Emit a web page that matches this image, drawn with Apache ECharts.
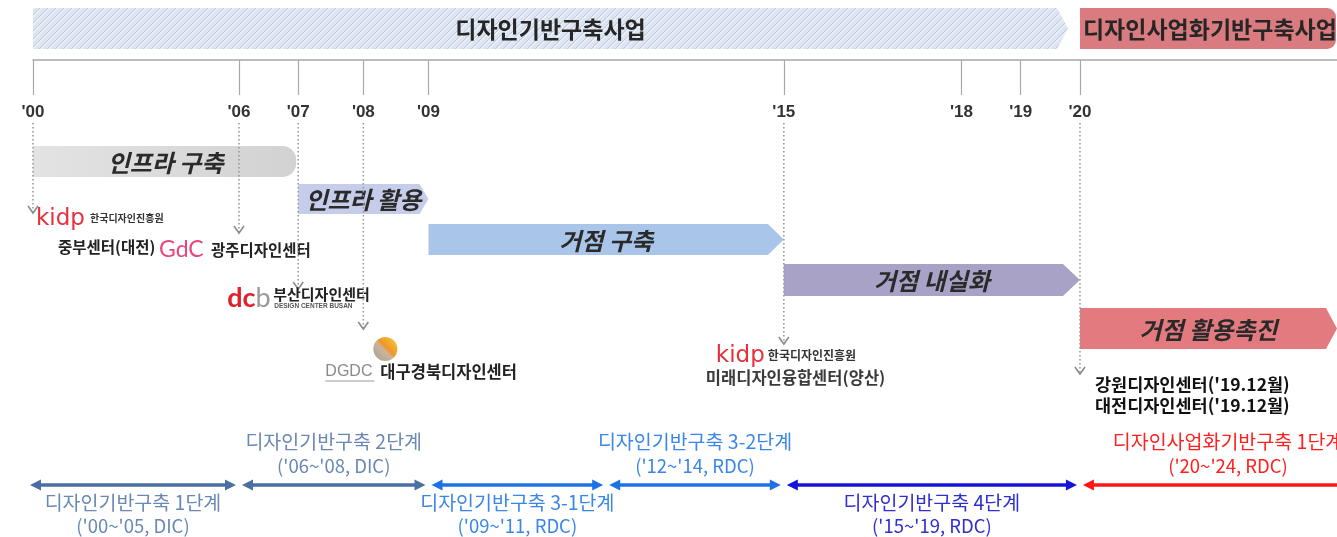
<!DOCTYPE html>
<html><head><meta charset="utf-8">
<script src="https://cdn.jsdelivr.net/npm/echarts@6/dist/echarts.min.js"></script>
<style>html,body{margin:0;padding:0;background:#fff}#c{width:1337px;height:537px}</style>
</head><body><div id="c"></div>
<script>
// ---------------- data ----------------
const programNames = ['디자인기반구축사업', '디자인사업화기반구축사업'];
const programStart = [2000, 2020];
const programEnd = [2020, 2025];

const tickLabels = ["'00", "'06", "'07", "'08", "'09", "'15", "'18", "'19", "'20"];
const tickYears = [2000, 2006, 2007, 2008, 2009, 2015, 2018, 2019, 2020];

const stageNames = ['인프라 구축', '인프라 활용', '거점 구축', '거점 내실화', '거점 활용촉진'];
const stageStart = [2000, 2007, 2009, 2015, 2020];
const stageEnd = [2007, 2009, 2015, 2020, 2025];

const openingYears = [2000, 2006, 2007, 2008, 2015, 2020];
const openingCenters = [
  ['한국디자인진흥원', '중부센터(대전)'],
  ['광주디자인센터'],
  ['부산디자인센터'],
  ['대구경북디자인센터'],
  ['한국디자인진흥원', '미래디자인융합센터(양산)'],
  ["강원디자인센터('19.12월)", "대전디자인센터('19.12월)"]
];

const phaseNames = ['디자인기반구축 1단계', '디자인기반구축 2단계', '디자인기반구축 3-1단계',
  '디자인기반구축 3-2단계', '디자인기반구축 4단계', '디자인사업화기반구축 1단계'];
const phasePeriods = ["('00~'05, DIC)", "('06~'08, DIC)", "('09~'11, RDC)",
  "('12~'14, RDC)", "('15~'19, RDC)", "('20~'24, RDC)"];
const phaseStart = [2000, 2006, 2009, 2012, 2015, 2020];
const phaseEnd = [2006, 2009, 2012, 2015, 2020, 2025];

// ---------------- layout & style ----------------
const KR = '"Noto Sans CJK KR"';
const LY = {
  progTop: 8, progBottom: 49,
  stageBands: [[146, 177], [184, 214], [224, 255], [264, 296], [308, 349]],
  stageTip: [0, 9, 16, 17, 11],
  markerTop: 123,
  markerTip: [213, 233, 289, 329, 344, 374],
  arrowY: 485,
  aboveY: [442, 466], belowY: [503, 526]
};
const stageColors = ['#d7d7d7', '#c6cdea', '#a9c6ea', '#a9a2c7', '#e27a7f'];
const phaseLineColors = ['#4a6fa3', '#4a6fa3', '#1f72e6', '#1f72e6', '#1414dc', '#ff1616'];
const phaseTextColors = ['#6a88b4', '#6a88b4', '#3a86ea', '#3a86ea', '#2e2ed2', '#ff2020'];
const phaseAbove = [false, true, false, true, false, true];

function makeHatch() {
  const c = document.createElement('canvas');
  c.width = 8; c.height = 8;
  const g = c.getContext('2d');
  g.fillStyle = '#dce5f1'; g.fillRect(0, 0, 8, 8);
  g.strokeStyle = '#bfcadd'; g.lineWidth = 1;
  g.beginPath();
  g.moveTo(0, 8); g.lineTo(8, 0);
  g.moveTo(-1, 1); g.lineTo(1, -1);
  g.moveTo(7, 9); g.lineTo(9, 7);
  g.stroke();
  g.strokeStyle = '#f5f8fc';
  g.beginPath();
  g.moveTo(2, 8); g.lineTo(8, 2);
  g.moveTo(0, 2); g.lineTo(2, 0);
  g.stroke();
  return c;
}
const hatch = makeHatch();

function Y(api, v) { return api.coord([2010, v])[1]; }
function txt(text, x, y, font, fill, align, extra) {
  return { type: 'text', style: Object.assign({ text, x, y, font, fill, align: align || 'left', verticalAlign: 'middle' }, extra || {}) };
}

function renderProgram(params, api) {
  const i = params.dataIndex;
  const cs = params.coordSys;
  const right = cs.x + cs.width;
  const x0 = api.coord([api.value(0), 0])[0];
  let x1 = Math.min(api.coord([api.value(1), 0])[0], right);
  const y0 = Y(api, LY.progTop), y1 = Y(api, LY.progBottom), ym = (y0 + y1) / 2;
  if (i === 0) {
    x1 -= 12;
    return { type: 'group', children: [
      { type: 'polygon', shape: { points: [[x0, y0], [x1 - 11, y0], [x1, ym], [x1 - 11, y1], [x0, y1]] },
        style: { fill: { image: hatch, repeat: 'repeat' } } },
      txt(programNames[i], (x0 + x1) / 2, ym + 1, 'bold 23px ' + KR, '#262626', 'center')
    ] };
  }
  return { type: 'group', children: [
    { type: 'rect', shape: { x: x0, y: y0, width: x1 - x0 - 1, height: y1 - y0, r: [0, 9, 9, 0] },
      style: { fill: '#da7b7f' } },
    txt(programNames[i], x0 + 3, ym + 1, 'bold 23px ' + KR, '#262626', 'left')
  ] };
}

function renderStage(params, api) {
  const i = params.dataIndex;
  const cs = params.coordSys;
  const right = cs.x + cs.width;
  const x0 = api.coord([api.value(0), 0])[0];
  const x1 = Math.min(api.coord([api.value(1), 0])[0], right);
  const y0 = Y(api, LY.stageBands[i][0]), y1 = Y(api, LY.stageBands[i][1]), ym = (y0 + y1) / 2;
  let shape;
  if (i === 0) {
    shape = { type: 'rect', shape: { x: x0, y: y0, width: x1 - x0 - 2, height: y1 - y0, r: [0, 14, 14, 0] },
      style: { fill: new echarts.graphic.LinearGradient(0, 0, 1, 0, [{ offset: 0, color: '#e3e3e3' }, { offset: 1, color: '#d2d2d2' }]) } };
  } else {
    const t = LY.stageTip[i];
    shape = { type: 'polygon', shape: { points: [[x0, y0], [x1 - t, y0], [x1, ym], [x1 - t, y1], [x0, y1]] },
      style: { fill: stageColors[i] } };
  }
  return { type: 'group', children: [
    shape,
    txt(stageNames[i], (x0 + x1) / 2, ym + 1, 'italic bold 24px ' + KR, '#2a2a2a', 'center')
  ] };
}

function logoParts(i, mx, api) {
  const c = openingCenters[i];
  const out = [];
  if (i === 0) {
    out.push(txt('kidp', mx + 3, Y(api, 219), '23px "DejaVu Sans"', '#e8303c'));
    out.push(txt(c[0], mx + 57, Y(api, 218), 'bold 10px ' + KR, '#333'));
    out.push(txt(c[1], mx + 25, Y(api, 247), 'bold 15.5px ' + KR, '#222'));
  } else if (i === 1) {
    out.push(txt('GdC', mx - 80, Y(api, 250), '23px Lato', '#e8457e'));
    out.push(txt(c[0], mx - 28, Y(api, 250), 'bold 15.5px ' + KR, '#222'));
  } else if (i === 2) {
    out.push({ type: 'text', style: { text: '{r|dc}{g|b}', x: mx - 71, y: Y(api, 298), verticalAlign: 'middle',
      rich: { r: { font: 'bold 27px Lato', fill: '#e0202a' }, g: { font: '27px Lato', fill: '#9a9a9a' } } } });
    out.push(txt(c[0], mx - 25, Y(api, 294), 'bold 15px ' + KR, '#222'));
    out.push(txt('DESIGN CENTER BUSAN', mx - 24, Y(api, 306), 'bold 6.5px "Liberation Sans"', '#555'));
  } else if (i === 3) {
    out.push({ type: 'circle', shape: { cx: mx + 22, cy: Y(api, 349), r: 12 },
      style: { fill: new echarts.graphic.LinearGradient(1, 0, 0, 1, [
        { offset: 0, color: '#f8cf3a' }, { offset: 0.45, color: '#f0952a' }, { offset: 0.55, color: '#c9b59a' }, { offset: 1, color: '#a79e93' }]) } });
    out.push(txt('DGDC', mx - 38, Y(api, 372), '16px "Liberation Sans"', '#8a8a8a'));
    out.push({ type: 'line', shape: { x1: mx - 38, y1: Y(api, 381), x2: mx + 11, y2: Y(api, 381) }, style: { stroke: '#999', lineWidth: 1 } });
    out.push(txt(c[0], mx + 17, Y(api, 372), 'bold 16.5px ' + KR, '#222'));
  } else if (i === 4) {
    out.push(txt('kidp', mx - 68, Y(api, 356), '23px "DejaVu Sans"', '#e8303c'));
    out.push(txt(c[0], mx - 16, Y(api, 355), 'bold 12px ' + KR, '#333'));
    out.push(txt(c[1], mx - 78, Y(api, 378), 'bold 16.5px ' + KR, '#3a3a3a'));
  } else if (i === 5) {
    out.push(txt(c[0], mx + 15, Y(api, 384), 'bold 17.5px ' + KR, '#111'));
    out.push(txt(c[1], mx + 15, Y(api, 405), 'bold 17.5px ' + KR, '#111'));
  }
  return out;
}

function renderMarker(params, api) {
  const i = params.dataIndex;
  const mx = api.coord([api.value(0), 0])[0];
  const top = Y(api, LY.markerTop), tip = Y(api, LY.markerTip[i]);
  const children = [
    { type: 'line', shape: { x1: mx, y1: top, x2: mx, y2: tip - 1 }, style: { stroke: '#9a9a9a', lineWidth: 1.6, lineDash: [1.6, 2.4] } },
    { type: 'polyline', shape: { points: [[mx - 5, tip - 7], [mx, tip], [mx + 5, tip - 7]] }, style: { stroke: '#8c8c8c', lineWidth: 1.6, fill: null } }
  ];
  return { type: 'group', children: children.concat(logoParts(i, mx, api)) };
}

function renderPhase(params, api) {
  const i = params.dataIndex;
  const a = api.coord([api.value(0), 0])[0];
  const b = api.coord([api.value(1), 0])[0];
  const y = Y(api, LY.arrowY);
  const x0 = a + (i === 0 ? -3 : 3), x1 = b - 3;
  const col = phaseLineColors[i];
  const h = 11, w = 5.5;
  const mid = (x0 + x1) / 2;
  const ys = phaseAbove[i] ? LY.aboveY : LY.belowY;
  return { type: 'group', children: [
    { type: 'line', shape: { x1: x0 + h - 2, y1: y, x2: x1 - h + 2, y2: y }, style: { stroke: col, lineWidth: 3.5 } },
    { type: 'polygon', shape: { points: [[x0, y], [x0 + h, y - w], [x0 + h, y + w]] }, style: { fill: col } },
    { type: 'polygon', shape: { points: [[x1, y], [x1 - h, y - w], [x1 - h, y + w]] }, style: { fill: col } },
    txt(phaseNames[i], mid, Y(api, ys[0]), '19.5px ' + KR, phaseTextColors[i], 'center'),
    txt(phasePeriods[i], mid, Y(api, ys[1]), '18.5px ' + KR, phaseTextColors[i], 'center')
  ] };
}

// the drawn timeline is not to scale: 2001-2005 is squeezed, 2007-2009 slightly widened
const breaks = [
  { start: 2001, end: 2005, gap: 1.478 },
  { start: 2007.1, end: 2007.9, gap: 0.9 },
  { start: 2008.1, end: 2008.9, gap: 0.9 }
];

const chart = echarts.init(document.getElementById('c'), null, { renderer: 'canvas' });
chart.setOption({
  animation: false,
  backgroundColor: '#ffffff',
  grid: [
    { left: 0, right: 0, top: 0, bottom: 0 },
    { left: 33, right: 0, top: 59, height: 1 }
  ],
  xAxis: [
    { gridIndex: 0, type: 'value', min: 1999.443, max: 2024.34, breaks: breaks, breakArea: { show: false }, show: false, splitLine: { show: false } },
    { gridIndex: 1, type: 'value', min: 2000, max: 2024.34, breaks: breaks, breakArea: { show: false }, position: 'top',
      splitLine: { show: false },
      axisLine: { show: true, breakLine: false, lineStyle: { color: '#a8a8a8', width: 1.5 } },
      axisTick: { show: true, inside: true, length: 35, customValues: tickYears, lineStyle: { color: '#a8a8a8', width: 1.2 } },
      axisLabel: { inside: true, margin: 45, customValues: tickYears, showMinLabel: true, showMaxLabel: true, hideOverlap: false,
        formatter: v => tickLabels[tickYears.indexOf(v)] || '',
        color: '#333', fontWeight: 'bold', fontSize: 17, fontFamily: '"Liberation Sans"' } }
  ],
  yAxis: [
    { gridIndex: 0, type: 'value', min: 0, max: 537, inverse: true, show: false },
    { gridIndex: 1, type: 'value', show: false }
  ],
  series: [
    { type: 'custom', name: 'programs', xAxisIndex: 0, yAxisIndex: 0, z: 1, renderItem: renderProgram,
      encode: { x: [0, 1], y: 2 }, data: programNames.map((n, i) => [programStart[i], programEnd[i], 0]) },
    { type: 'custom', name: 'stages', xAxisIndex: 0, yAxisIndex: 0, z: 2, renderItem: renderStage,
      encode: { x: [0, 1], y: 2 }, data: stageNames.map((n, i) => [stageStart[i], stageEnd[i], 0]) },
    { type: 'custom', name: 'openings', xAxisIndex: 0, yAxisIndex: 0, z: 3, renderItem: renderMarker,
      encode: { x: 0, y: 1 }, data: openingYears.map(y => [y, 0]) },
    { type: 'custom', name: 'phases', xAxisIndex: 0, yAxisIndex: 0, z: 3, renderItem: renderPhase,
      encode: { x: [0, 1], y: 2 }, data: phaseNames.map((n, i) => [phaseStart[i], phaseEnd[i], 0]) }
  ]
});
</script>
</body></html>
